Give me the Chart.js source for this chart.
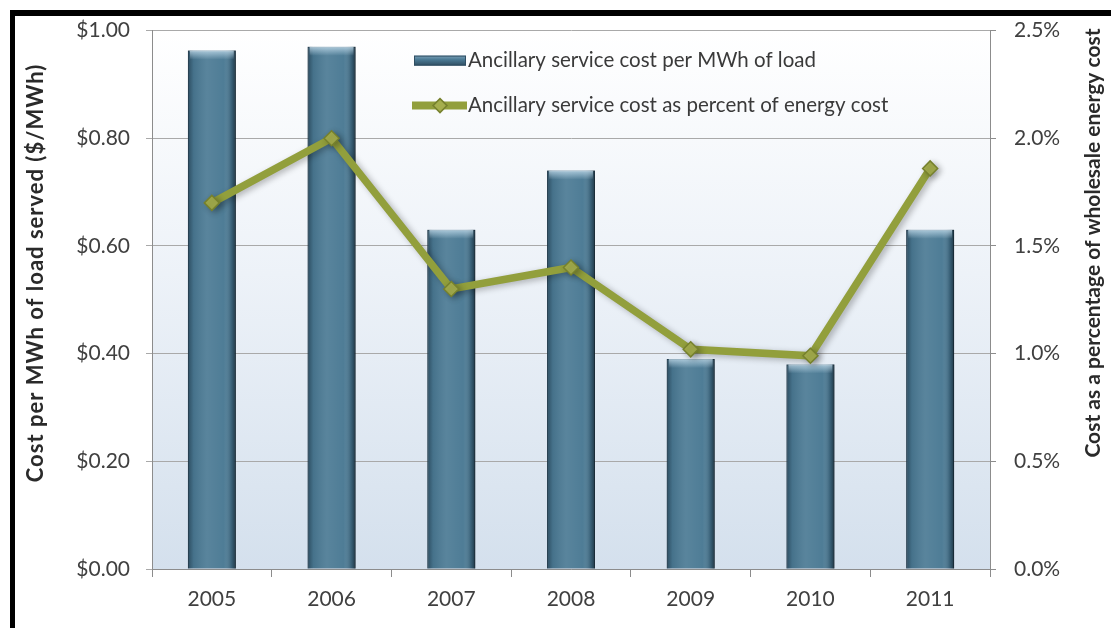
<!DOCTYPE html>
<html>
<head>
<meta charset="utf-8">
<title>Ancillary service cost</title>
<script src="https://cdn.jsdelivr.net/npm/chart.js@4.4.1/dist/chart.umd.min.js"></script>
<style>
  html, body { margin: 0; padding: 0; background: #fff; }
  #wrap { position: relative; width: 1111px; height: 628px; overflow: hidden; }
  #frame {
    position: absolute; left: 10px; top: 10px; right: 0; bottom: 0;
    border-top: 6px solid #000; border-left: 5px solid #000;
  }
  canvas { position: absolute; left: 0; top: 0; }
</style>
</head>
<body>
<div id="wrap">
  <div id="frame"></div>
  <canvas id="chart" width="1111" height="628"></canvas>
</div>
<script>
const years = ["2005", "2006", "2007", "2008", "2009", "2010", "2011"];
const costPerMWh = [0.963, 0.970, 0.630, 0.740, 0.390, 0.380, 0.630];
const pctOfEnergyCost = [1.70, 2.00, 1.30, 1.40, 1.02, 0.99, 1.86];

const barLabel = "Ancillary service cost per MWh of load";
const lineLabel = "Ancillary service cost as percent of energy cost";
const leftTitle = "Cost per MWh of load served ($/MWh)";
const rightTitle = "Cost as a percentage of wholesale energy cost";

const FONT = "Lato, 'Open Sans', sans-serif";
const TICK_COLOR = "#404040";
const AXIS_COLOR = "#8c8c8c";
const BAR_COLOR = "#4b7a94";
const BAR_EDGE = "#2f4e62";
const LINE_COLOR = "#929f3c";
const POINT_FILL = "#a5ae4d";
const POINT_EDGE = "#76812d";

// light blue wash behind the plot
const plotBackground = {
  id: "plotBackground",
  beforeDraw(chart) {
    const { ctx, chartArea: a } = chart;
    const g = ctx.createLinearGradient(0, a.top, 0, a.bottom);
    g.addColorStop(0, "#ffffff");
    g.addColorStop(0.45, "#edf2f8");
    g.addColorStop(1, "#d4e0ed");
    ctx.save();
    ctx.fillStyle = g;
    ctx.fillRect(a.left, a.top, a.right - a.left, a.bottom - a.top);
    ctx.restore();
  }
};

// soft drop shadow under bars and the line, plus a rounded look on the bars
const markShading = {
  id: "markShading",
  beforeDatasetDraw(chart) {
    const ctx = chart.ctx;
    ctx.save();
    ctx.shadowColor = "rgba(0,0,0,0.28)";
    ctx.shadowBlur = 6;
    ctx.shadowOffsetX = 3;
    ctx.shadowOffsetY = 2;
  },
  afterDatasetDraw(chart, args) {
    const ctx = chart.ctx;
    ctx.restore();
    if (args.meta.type !== "bar") return;
    ctx.save();
    args.meta.data.forEach((bar) => {
      const { x, y, base, width } = bar.getProps(["x", "y", "base", "width"], true);
      const left = x - width / 2;
      const h = base - y;
      const side = ctx.createLinearGradient(left, 0, left + width, 0);
      side.addColorStop(0, "rgba(20,40,55,0.55)");
      side.addColorStop(0.12, "rgba(20,40,55,0.1)");
      side.addColorStop(0.4, "rgba(255,255,255,0.08)");
      side.addColorStop(0.75, "rgba(255,255,255,0.02)");
      side.addColorStop(0.9, "rgba(20,40,55,0.25)");
      side.addColorStop(1, "rgba(10,25,35,0.7)");
      ctx.fillStyle = side;
      ctx.fillRect(left, y, width, h);
      const cap = ctx.createLinearGradient(0, y, 0, y + 9);
      cap.addColorStop(0, "rgba(200,225,240,0.75)");
      cap.addColorStop(1, "rgba(200,225,240,0)");
      ctx.fillStyle = cap;
      ctx.fillRect(left + 2, y, width - 4, 9);
    });
    ctx.restore();
  }
};

// legend sits inside the plot, upper middle
const insideLegend = {
  id: "insideLegend",
  afterDraw(chart) {
    const { ctx, chartArea: a } = chart;
    const ix = a.left + 262;
    const row1 = a.top + 30;
    const row2 = a.top + 75;
    ctx.save();
    const g = ctx.createLinearGradient(0, row1 - 5, 0, row1 + 5);
    g.addColorStop(0, "#7aa0b8");
    g.addColorStop(0.4, BAR_COLOR);
    g.addColorStop(1, BAR_EDGE);
    ctx.fillStyle = g;
    ctx.fillRect(ix, row1 - 5, 52, 10);
    ctx.strokeStyle = BAR_EDGE;
    ctx.lineWidth = 1;
    ctx.strokeRect(ix + 0.5, row1 - 4.5, 51, 9);

    ctx.strokeStyle = LINE_COLOR;
    ctx.lineWidth = 8;
    ctx.beginPath();
    ctx.moveTo(ix - 2, row2);
    ctx.lineTo(ix + 53, row2);
    ctx.stroke();
    ctx.fillStyle = POINT_FILL;
    ctx.strokeStyle = POINT_EDGE;
    ctx.lineWidth = 1.5;
    ctx.beginPath();
    ctx.moveTo(ix + 26, row2 - 7);
    ctx.lineTo(ix + 33, row2);
    ctx.lineTo(ix + 26, row2 + 7);
    ctx.lineTo(ix + 19, row2);
    ctx.closePath();
    ctx.fill();
    ctx.stroke();

    ctx.fillStyle = "#3a3a3a";
    ctx.font = "20.5px " + FONT;
    ctx.textAlign = "left";
    ctx.textBaseline = "middle";
    ctx.fillText(barLabel, ix + 54, row1);
    ctx.fillText(lineLabel, ix + 54, row2);
    ctx.restore();
  }
};

// vertical axis titles, both reading bottom to top
const axisTitles = {
  id: "axisTitles",
  afterDraw(chart) {
    const ctx = chart.ctx;
    const draw = (text, x, y, size, spacing) => {
      ctx.save();
      ctx.translate(x, y);
      ctx.rotate(-Math.PI / 2);
      ctx.fillStyle = "#2a2a2a";
      ctx.font = "bold " + size + "px " + FONT;
      ctx.letterSpacing = spacing;
      ctx.textAlign = "center";
      ctx.textBaseline = "middle";
      ctx.fillText(text, 0, 0);
      ctx.restore();
    };
    draw(leftTitle, 36, 273, 22, "1px");
    draw(rightTitle, 1093, 243, 21, "0px");
  }
};

const tickFont = { family: FONT, size: 21 };

new Chart(document.getElementById("chart"), {
  type: "bar",
  data: {
    labels: years,
    datasets: [
      {
        type: "bar",
        label: barLabel,
        data: costPerMWh,
        yAxisID: "y",
        backgroundColor: BAR_COLOR,
        borderColor: BAR_EDGE,
        borderWidth: 1,
        barPercentage: 0.4,
        categoryPercentage: 1,
        order: 2
      },
      {
        type: "line",
        label: lineLabel,
        data: pctOfEnergyCost,
        yAxisID: "y1",
        borderColor: LINE_COLOR,
        borderWidth: 7.5,
        tension: 0,
        pointStyle: "rectRot",
        pointRadius: 7.5,
        pointBackgroundColor: POINT_FILL,
        pointBorderColor: POINT_EDGE,
        pointBorderWidth: 1.5,
        order: 1
      }
    ]
  },
  options: {
    responsive: false,
    animation: false,
    layout: { padding: { top: 28, left: 0, right: 0, bottom: 0 } },
    plugins: {
      legend: { display: false },
      tooltip: { enabled: false }
    },
    scales: {
      x: {
        grid: { drawOnChartArea: false, offset: true, tickLength: 8, color: AXIS_COLOR },
        border: { color: AXIS_COLOR },
        ticks: { font: tickFont, color: TICK_COLOR, padding: 10 },
        afterFit: (s) => { s.height = 59; }
      },
      y: {
        position: "left",
        min: 0,
        max: 1,
        grid: { color: "#a9a9a9", tickLength: 6 },
        border: { color: AXIS_COLOR },
        ticks: {
          stepSize: 0.2,
          padding: 16,
          font: tickFont,
          color: TICK_COLOR,
          callback: (v) => "$" + Number(v).toFixed(2)
        },
        afterFit: (s) => { s.width = 152; }
      },
      y1: {
        position: "right",
        min: 0,
        max: 2.5,
        grid: { drawOnChartArea: false, tickLength: 6, color: AXIS_COLOR },
        border: { color: AXIS_COLOR },
        ticks: {
          stepSize: 0.5,
          padding: 18,
          font: tickFont,
          color: TICK_COLOR,
          callback: (v) => Number(v).toFixed(1) + "%"
        },
        afterFit: (s) => { s.width = 121; }
      }
    }
  },
  plugins: [plotBackground, markShading, insideLegend, axisTitles]
});
</script>
</body>
</html>
